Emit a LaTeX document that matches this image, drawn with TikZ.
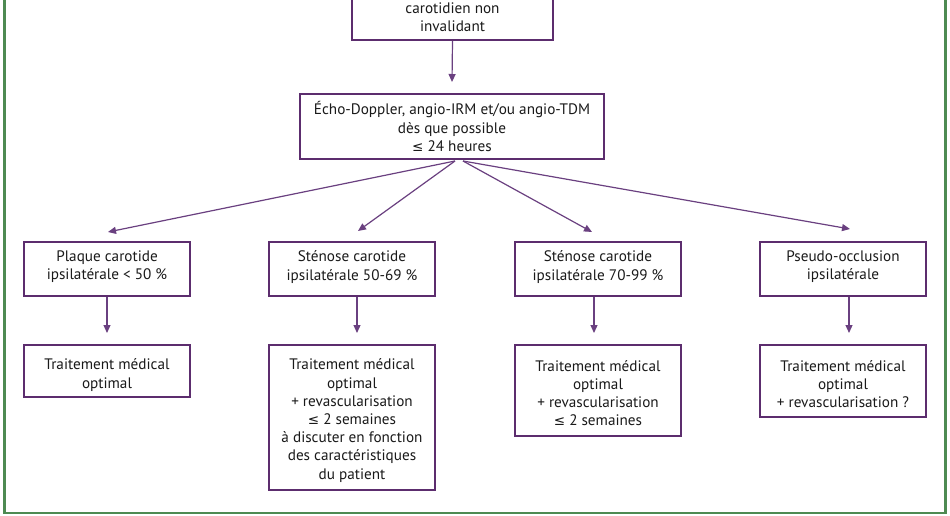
\documentclass[tikz,border=0pt]{standalone}
\usepackage{fontspec}
\setmainfont{PT Sans}
\newfontfamily\symf{DejaVu Sans}
\usetikzlibrary{arrows.meta,calc}
\definecolor{boxc}{HTML}{5C2D6E}
\definecolor{arrc}{HTML}{6A4080}
\definecolor{framec}{HTML}{4E8A52}
\definecolor{txtc}{HTML}{1A1A1A}
\newcommand{\myleq}{{\symf\fontsize{13.5}{18}\selectfont ≤}}
\begin{document}
\begin{tikzpicture}[x=1pt,y=-1pt,
  boxs/.style={draw=boxc,line width=2pt,minimum width=166pt,inner sep=0pt},
  txts/.style={align=center,font=\fontsize{15.2}{18.2}\selectfont,text=txtc,inner sep=0pt},
  arr/.style={draw=arrc,line width=1.2pt,-{Triangle[length=8pt,width=7pt]}}]
\useasboundingbox (0,0) rectangle (950,516);
\clip (0,0) rectangle (950,516);
\fill[white] (0,0) rectangle (950,516);
\draw[framec,line width=2.5pt] (4.5,-20) rectangle (945.5,513);
% top
\node[boxs,minimum width=201pt,minimum height=70pt] (top) at (452.5,5) {};
\node[txts] (toptxt) at (452.5,17.5) {carotidien non\\invalidant};
% echo
\node[boxs,minimum width=304pt,minimum height=65pt] (echo) at (452,126.5) {};
\node[txts] (echot) at (452,126.5) {Écho-Doppler, angio-IRM et/ou angio-TDM\\dès que possible\\\myleq{} 24 heures};
% row 1
\node[boxs,minimum height=54pt] (b1) at (107,269) {};
\node[boxs,minimum height=54pt] (b2) at (352,269) {};
\node[boxs,minimum height=54pt] (b3) at (598,269) {};
\node[boxs,minimum height=54pt] (b4) at (843,269) {};
\node[txts] (t1) at (107,267) {Plaque carotide\\ipsilatérale < 50 \%};
\node[txts] (t2) at (352,267) {Sténose carotide\\ipsilatérale 50-69 \%};
\node[txts] (t3) at (598,267) {Sténose carotide\\ipsilatérale 70-99 \%};
\node[txts] (t4) at (843,267) {Pseudo-occlusion\\ipsilatérale};
% row 2
\node[boxs,minimum height=52pt] (b5) at (107,371) {};
\node[boxs,minimum height=145pt] (b6) at (352,417.5) {};
\node[boxs,minimum height=91pt] (b7) at (598,390.5) {};
\node[boxs,minimum height=72pt] (b8) at (843,381) {};
\node[txts] (t5) at (107,375) {Traitement médical\\optimal};
\node[txts] (t6) at (352,420.5) {Traitement médical\\optimal\\+ revascularisation\\\myleq{} 2 semaines\\à discuter en fonction\\des caractéristiques\\du patient};
\node[txts] (t7) at (598,393) {Traitement médical\\optimal\\+ revascularisation\\\myleq{} 2 semaines};
\node[txts] (t8) at (843,384) {Traitement médical\\optimal\\+ revascularisation ?};
% connectors
\coordinate (e1) at ($(echo.south)+(3,1)$);
\coordinate (e2) at ($(echo.south)+(11,1)$);
\draw[arr] (top.south) -- ($(echo.north)+(0,-11)$);
\draw[arr] (e1) -- ($(b1.north)+(1,-9)$);
\draw[arr] (e1) -- ($(b2.north)+(6,-10)$);
\draw[arr] (e2) -- ($(b3.north)+(-6,-9)$);
\draw[arr] (e2) -- ($(b4.north)+(7,-12)$);
\draw[arr] (b1.south) -- ($(b5.north)+(0,-11)$);
\draw[arr] ($(b2.south)+(5,0)$) -- ($(b6.north)+(5,-11)$);
\draw[arr] ($(b3.south)+(-4,0)$) -- ($(b7.north)+(-4,-11)$);
\draw[arr] ($(b4.south)+(6,0)$) -- ($(b8.north)+(6,-11)$);
\end{tikzpicture}
\end{document}
